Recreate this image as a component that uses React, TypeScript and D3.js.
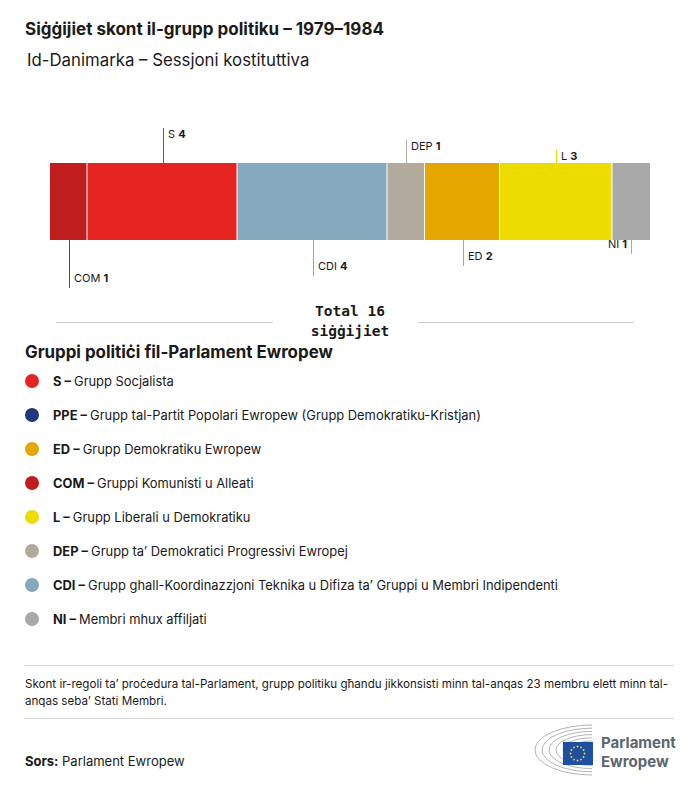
import * as d3 from 'd3'

const groups = ['COM', 'S', 'CDI', 'DEP', 'ED', 'L', 'NI']
const seats = [1, 4, 4, 1, 2, 3, 1]
const groupColors = ['#c01d1f', '#e52421', '#85a9bd', '#b3aa9e', '#e6a600', '#ecdc00', '#a8a8a8']
// label side / leader length, alternating under and over the bar
const labelSide = ['bottom', 'top', 'bottom', 'top', 'bottom', 'top', 'bottom']
const labelLen = [48, 35, 36, 23, 26, 13, 14]

const legendCodes = ['S', 'PPE', 'ED', 'COM', 'L', 'DEP', 'CDI', 'NI']
const legendNames = [
  'Grupp Socjalista',
  'Grupp tal-Partit Popolari Ewropew (Grupp Demokratiku-Kristjan)',
  'Grupp Demokratiku Ewropew',
  'Gruppi Komunisti u Alleati',
  'Grupp Liberali u Demokratiku',
  'Grupp ta\u2019 Demokratici Progressivi Ewropej',
  'Grupp ghall-Koordinazzjoni Teknika u Difiza ta\u2019 Gruppi u Membri Indipendenti',
  'Membri mhux affiljati',
]
const legendColors = ['#e52421', '#24387f', '#e6a600', '#c01d1f', '#ecdc00', '#b3aa9e', '#85a9bd', '#a8a8a8']

const W = 700
const H = 786
const FONT = 'Inter, Lato, sans-serif'

export default function App() {
  const total = d3.sum(seats)
  const x = d3.scaleLinear().domain([0, total]).range([50, 650])
  const cum = d3.cumsum(seats)
  const starts = seats.map((s, i) => cum[i] - s)
  const barTop = 163
  const barBottom = 240

  const legendY = d3.scaleBand<number>().domain(d3.range(legendCodes.length)).range([364, 636])

  const stars = d3.range(12).map(i => {
    const a = (i / 12) * Math.PI * 2
    return [577.5 + Math.cos(a) * 7, 753.5 + Math.sin(a) * 7]
  })

  return (
    <svg width={W} height={H} style={{ position: 'absolute', left: 0, top: 0, background: '#fff' }}
      fontFamily={FONT}>
      <text x={25} y={35} fontSize={17} fontWeight={700} fill="#1a1a1a">Siġġijiet skont il-grupp politiku – 1979–1984</text>
      <text x={27} y={66} fontSize={16.8} fill="#1a1a1a">Id-Danimarka – Sessjoni kostituttiva</text>

      {groups.map((g, i) => (
        <rect key={g} x={x(starts[i])} y={barTop} width={x(seats[i]) - x(0) - (i < groups.length - 1 ? 1 : 0)}
          height={barBottom - barTop} fill={groupColors[i]} />
      ))}

      {groups.map((g, i) => {
        const cx = Math.round(x(starts[i] + seats[i] / 2))
        const top = labelSide[i] === 'top'
        const y1 = top ? barTop - labelLen[i] : barBottom
        const y2 = top ? barTop : barBottom + labelLen[i]
        const lastRight = i === groups.length - 1
        const ty = top ? y1 + 10 : y2 - 6
        return (
          <g key={g}>
            <line x1={cx + 0.5} x2={cx + 0.5} y1={y1} y2={y2} stroke={groupColors[i]} strokeWidth={1} />
            <text x={lastRight ? cx - 4 : cx + 5} y={ty} fontSize={11} fill="#1a1a1a"
              textAnchor={lastRight ? 'end' : 'start'}>
              {g} <tspan fontWeight={700}>{seats[i]}</tspan>
            </text>
          </g>
        )
      })}

      <line x1={56} x2={273} y1={322.5} y2={322.5} stroke="#cccccc" />
      <line x1={418} x2={634} y1={322.5} y2={322.5} stroke="#cccccc" />
      <text x={350} y={316} textAnchor="middle" fontFamily="'DejaVu Sans Mono', monospace" fontWeight={700} fontSize={14.5} fill="#1a1a1a">Total {total}</text>
      <text x={350} y={336} textAnchor="middle" fontFamily="'DejaVu Sans Mono', monospace" fontWeight={700} fontSize={14.5} fill="#1a1a1a">siġġijiet</text>

      <text x={25} y={358} fontSize={16.9} fontWeight={700} fill="#1a1a1a">Gruppi politiċi fil-Parlament Ewropew</text>
      {legendCodes.map((c, i) => {
        const cy = (legendY(i) as number) + legendY.bandwidth() / 2
        return (
          <g key={c}>
            <circle cx={32} cy={cy} r={7} fill={legendColors[i]} />
            <text x={53} y={cy + 4.5} fontSize={12.9} fill="#1a1a1a">
              <tspan fontWeight={700}>{c} – </tspan>{legendNames[i]}
            </text>
          </g>
        )
      })}

      <line x1={25} x2={674} y1={665.5} y2={665.5} stroke="#d6d6d6" />
      <text x={25} y={688} fontSize={11.6} fill="#1a1a1a">Skont ir-regoli ta’ proċedura tal-Parlament, grupp politiku għandu jikkonsisti minn tal-anqas 23 membru elett minn tal-</text>
      <text x={25} y={705} fontSize={11.6} fill="#1a1a1a">anqas seba’ Stati Membri.</text>
      <line x1={25} x2={674} y1={718.5} y2={718.5} stroke="#d6d6d6" />
      <text x={25} y={766} fontSize={13} fill="#1a1a1a"><tspan fontWeight={700}>Sors:</tspan> Parlament Ewropew</text>

      {d3.range(6).map(k => {
        const rx = 22 + k * 7
        const ry = 9 + k * 3.2
        const cx = 592
        const cy = 750
        return (
          <path key={k} d={`M ${cx} ${cy - ry} A ${rx} ${ry} 0 0 0 ${cx} ${cy + ry}`}
            fill="none" stroke="#b5b5b5" strokeWidth={1} />
        )
      })}
      <rect x={563} y={742} width={30} height={23} fill="#1f4fa0" />
      {stars.map((s, i) => <circle key={i} cx={s[0]} cy={s[1]} r={0.9} fill="#ffdd00" />)}
      <text x={601} y={748} fontSize={15} fontWeight={700} fill="#5d6670">Parlament</text>
      <text x={601} y={767} fontSize={15} fontWeight={700} fill="#5d6670">Ewropew</text>
    </svg>
  )
}
